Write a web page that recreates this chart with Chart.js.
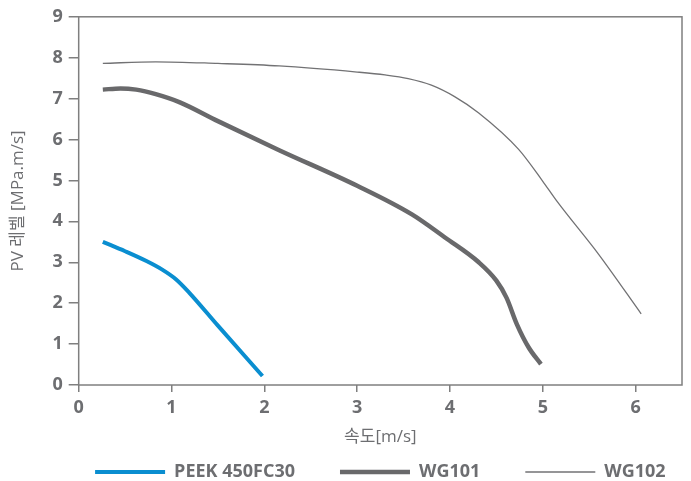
<!DOCTYPE html>
<html>
<head>
<meta charset="utf-8">
<script src="https://cdn.jsdelivr.net/npm/chart.js@4/dist/chart.umd.min.js"></script>
<style>
    html, body { margin: 0; padding: 0; background: #fff; }
    #wrap { width: 691px; height: 481px; }
</style>
</head>
<body>
<div id="wrap"><canvas id="pv-chart"></canvas></div>
<script>
// Data
const seriesNames = ['PEEK 450FC30', 'WG101', 'WG102'];
const peekX = [0.26, 0.5, 0.73, 0.9, 1.05, 1.19, 1.5, 1.98];
const peekY = [3.5, 3.27, 3.03, 2.82, 2.58, 2.26, 1.45, 0.22];
const wg101X = [0.26, 0.45, 0.62, 0.83, 1.09, 1.5, 2.16, 3.0, 3.59, 3.95, 4.31, 4.5, 4.61, 4.72, 4.85, 4.98];
const wg101Y = [7.22, 7.25, 7.22, 7.11, 6.91, 6.45, 5.74, 4.87, 4.17, 3.6, 3.0, 2.55, 2.13, 1.49, 0.91, 0.51];
const wg102X = [0.26, 0.83, 1.5, 2.16, 3.0, 3.3, 3.55, 3.8, 4.05, 4.31, 4.74, 5.0, 5.15, 5.6, 6.06];
const wg102Y = [7.86, 7.9, 7.86, 7.8, 7.65, 7.58, 7.49, 7.33, 7.05, 6.65, 5.76, 4.98, 4.5, 3.2, 1.74];
const xTitle = '속도[m/s]';
const yTitle = 'PV 레벨 [MPa.m/s]';

const textColor = '#6d6e71';
const axisColor = '#7f7f7f';
const fontFamily = '"Open Sans", "Noto Sans CJK KR", sans-serif';
const legendFont = 18;
const legendGap = 45;

function toPoints(xs, ys) {
    return xs.map((x, i) => ({ x: x, y: ys[i] }));
}

// draws the frame round the plot area (top and right sides too)
const frame = {
    id: 'frame',
    afterDraw(chart) {
        const a = chart.chartArea;
        const ctx = chart.ctx;
        ctx.save();
        ctx.strokeStyle = axisColor;
        ctx.lineWidth = 1.5;
        ctx.strokeRect(a.left, a.top, a.right - a.left, a.bottom - a.top);
        ctx.restore();
    }
};

// the legend sits close under the axis title and is centred on the plot area
const legendPlace = {
    id: 'legendPlace',
    beforeLayout(chart) {
        const lg = chart.legend;
        if (lg && !lg.fitPatched) {
            const fit = lg.fit;
            lg.fit = function() {
                fit.call(this);
                this.height = 34;
            };
            lg.fitPatched = true;
        }
    },
    afterLayout(chart) {
        const lg = chart.legend;
        const a = chart.chartArea;
        const dx = (a.left + a.right) / 2 - (lg.left + lg.right) / 2;
        lg.left += dx;
        lg.right += dx;
        const textMid = a.bottom + 87;
        lg.top = textMid - legendGap - legendFont / 2;
        lg.bottom = chart.height;
        lg.height = lg.bottom - lg.top;
    }
};

const onlyWhole = scale => {
    scale.ticks = scale.ticks.filter(t => Number.isInteger(t.value));
};

new Chart(document.getElementById('pv-chart'), {
    type: 'line',
    data: {
        datasets: [
            {
                label: seriesNames[0],
                data: toPoints(peekX, peekY),
                borderColor: '#0a8ed0',
                backgroundColor: '#0a8ed0',
                borderWidth: 4
            },
            {
                label: seriesNames[1],
                data: toPoints(wg101X, wg101Y),
                borderColor: '#69696b',
                backgroundColor: '#69696b',
                borderWidth: 4.5
            },
            {
                label: seriesNames[2],
                data: toPoints(wg102X, wg102Y),
                borderColor: '#727274',
                backgroundColor: '#727274',
                borderWidth: 1.3
            }
        ]
    },
    options: {
        responsive: true,
        maintainAspectRatio: false,
        animation: false,
        elements: {
            point: { radius: 0 },
            line: { cubicInterpolationMode: 'monotone', borderCapStyle: 'butt' }
        },
        layout: { padding: { left: 8, right: 9, top: 8, bottom: 0 } },
        plugins: {
            tooltip: { enabled: false },
            legend: {
                position: 'bottom',
                labels: {
                    usePointStyle: true,
                    pointStyle: 'line',
                    pointStyleWidth: 70,
                    boxHeight: legendFont,
                    padding: legendGap,
                    color: textColor,
                    font: { family: fontFamily, size: legendFont, weight: 'bold' }
                }
            }
        },
        scales: {
            x: {
                type: 'linear',
                min: 0,
                max: 6.5,
                afterBuildTicks: onlyWhole,
                ticks: {
                    stepSize: 1,
                    includeBounds: false,
                    color: textColor,
                    padding: 5,
                    font: { family: fontFamily, size: 18, weight: 'bold' }
                },
                grid: { drawOnChartArea: false, tickLength: 7, color: axisColor, lineWidth: 1.5 },
                border: { display: false },
                title: {
                    display: true,
                    text: xTitle,
                    color: textColor,
                    padding: { top: 3, bottom: 0 },
                    font: { family: fontFamily, size: 17 }
                }
            },
            y: {
                min: 0,
                max: 9,
                ticks: {
                    stepSize: 1,
                    color: textColor,
                    padding: 6,
                    font: { family: fontFamily, size: 18, weight: 'bold' }
                },
                grid: { drawOnChartArea: false, tickLength: 10, color: axisColor, lineWidth: 1.5 },
                border: { display: false },
                title: {
                    display: true,
                    text: yTitle,
                    color: textColor,
                    padding: { top: 0, bottom: 18 },
                    font: { family: fontFamily, size: 17 }
                }
            }
        }
    },
    plugins: [frame, legendPlace]
});
</script>
</body>
</html>
